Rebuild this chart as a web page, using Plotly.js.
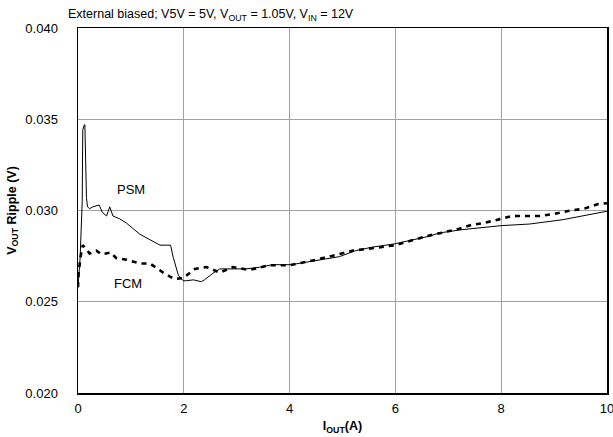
<!DOCTYPE html>
<html>
<head>
<meta charset="utf-8">
<script src="https://cdn.plot.ly/plotly-3.0.1.min.js"></script>
<style>html,body{margin:0;padding:0;background:#fff;}#chart{width:613px;height:437px;}</style>
</head>
<body>
<div id="chart"></div>
<script>
const psmX = [0.00, 0.04, 0.08, 0.09, 0.12, 0.13, 0.16, 0.18, 0.22, 0.28, 0.40, 0.46, 0.54, 0.60, 0.66, 0.79, 0.92, 1.17, 1.36, 1.55, 1.67, 1.75, 1.80, 1.90, 1.99, 2.05, 2.18, 2.33, 2.39, 2.55, 2.68, 2.93, 3.18, 3.43, 3.68, 4.03, 4.50, 4.94, 5.25, 5.56, 5.98, 6.33, 6.64, 6.83, 7.26, 8.00, 8.54, 9.17, 9.55, 10.00];
const psmY = [0.0258, 0.0274, 0.0305, 0.0344, 0.0347, 0.0347, 0.0307, 0.0302, 0.0301, 0.0302, 0.0303, 0.0299, 0.0297, 0.0302, 0.0297, 0.02954, 0.0293, 0.0287, 0.0284, 0.0281, 0.0281, 0.0281, 0.02743, 0.02643, 0.02615, 0.02615, 0.0262, 0.0261, 0.0262, 0.02656, 0.0268, 0.0268, 0.0268, 0.02689, 0.02703, 0.02703, 0.02725, 0.02747, 0.0278, 0.02799, 0.02817, 0.0284, 0.02859, 0.02877, 0.02895, 0.02917, 0.02926, 0.0295, 0.02972, 0.02996];
const fcmX = [0.00, 0.01, 0.05, 0.09, 0.15, 0.22, 0.35, 0.44, 0.62, 0.72, 0.92, 1.17, 1.36, 1.61, 1.82, 1.99, 2.21, 2.43, 2.68, 2.93, 3.16, 3.30, 3.60, 4.00, 4.50, 4.95, 5.20, 5.75, 6.00, 6.60, 7.21, 7.43, 7.65, 7.94, 8.20, 8.47, 8.72, 8.97, 9.32, 9.57, 9.83, 10.00];
const fcmY = [0.0258, 0.0265, 0.0275, 0.0281, 0.0279, 0.02764, 0.0278, 0.0276, 0.0277, 0.0274, 0.0273, 0.0271, 0.0271, 0.0266, 0.02625, 0.0263, 0.0268, 0.0269, 0.0266, 0.0269, 0.02678, 0.02678, 0.0270, 0.0270, 0.0273, 0.0276, 0.0278, 0.0280, 0.0281, 0.0286, 0.0290, 0.0292, 0.0293, 0.0295, 0.0297, 0.0297, 0.0297, 0.0298, 0.0300, 0.0301, 0.03035, 0.0304];
const xTicks = [0, 2, 4, 6, 8, 10];
const yTicks = [0.020, 0.025, 0.030, 0.035, 0.040];
const yTickText = ["0.020", "0.025", "0.030", "0.035", "0.040"];
const labels = [{text: "PSM", x: 1.0, y: 0.03115}, {text: "FCM", x: 0.95, y: 0.02602}];

const font = "Liberation Sans, Arial, sans-serif";
const traces = [
  {x: psmX, y: psmY, mode: "lines", line: {color: "#000", width: 1}, name: "PSM", showlegend: false},
  {x: fcmX, y: fcmY, mode: "lines", line: {color: "#000", width: 2.6, dash: "5px,5px"}, name: "FCM", showlegend: false}
];
const layout = {
  width: 613, height: 437,
  margin: {l: 78, r: 6, t: 28, b: 44},
  paper_bgcolor: "#fff", plot_bgcolor: "#fff",
  font: {family: font, size: 13, color: "#000"},
  title: {text: "External biased; V5V = 5V, V<sub>OUT</sub> = 1.05V, V<sub>IN</sub> = 12V", x: 68/613, xanchor: "left", y: 1 - 14/437, yanchor: "middle", font: {family: font, size: 12.5, color: "#000"}},
  xaxis: {range: [0, 10], tickvals: xTicks, ticktext: xTicks.map(String), showgrid: true, gridcolor: "#a0a0a0", gridwidth: 1, zeroline: false, showline: true, linecolor: "#000", linewidth: 1.5, mirror: true, ticks: "", ticklen: 0, ticklabelstandoff: 3, ticklabeloverflow: "allow", tickfont: {family: font, size: 13},
    title: {text: "<b>I<sub>OUT</sub>(A)</b>", standoff: 6, font: {family: font, size: 12.5}}},
  yaxis: {range: [0.020, 0.040], tickvals: yTicks, ticktext: yTickText, showgrid: true, gridcolor: "#a0a0a0", gridwidth: 1, zeroline: false, showline: true, linecolor: "#000", linewidth: 1.5, mirror: true, ticks: "", ticklabelstandoff: 16, tickfont: {family: font, size: 13},
    title: {text: "<b>V<sub>OUT</sub> Ripple (V)</b>", standoff: 6, font: {family: font, size: 12.5}}},
  annotations: labels.map(l => ({text: l.text, x: l.x, y: l.y, xref: "x", yref: "y", showarrow: false, font: {family: font, size: 13, color: "#000"}}))
};
Plotly.newPlot("chart", traces, layout, {staticPlot: true, displayModeBar: false});
</script>
</body>
</html>
